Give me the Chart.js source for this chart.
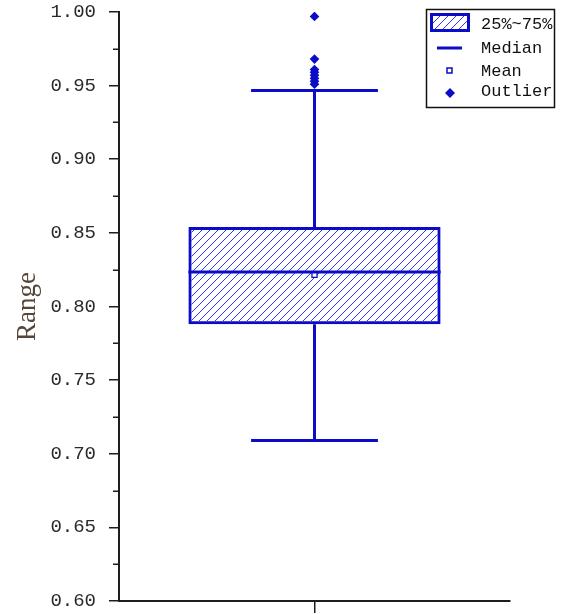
<!DOCTYPE html>
<html><head><meta charset="utf-8">
<script src="https://cdn.jsdelivr.net/npm/chart.js@4/dist/chart.umd.min.js"></script>
<style>html,body{margin:0;padding:0;background:#fff;overflow:hidden}#wrap{width:561px;height:614px}</style>
</head><body><div id="wrap"><canvas id="c" width="561" height="614"></canvas></div>
<script>
// ---- data ----
const categories = [''];
const lowerWhisker = [0.709];
const q1 = [0.788];
const median = [0.8235];
const mean = [0.8215];
const q3 = [0.854];
const upperWhisker = [0.9467];
const outliers = [0.997, 0.968, 0.961, 0.959, 0.957, 0.955, 0.953, 0.951];
const yTicks = [0.60, 0.65, 0.70, 0.75, 0.80, 0.85, 0.90, 0.95, 1.00];
const legendLabels = ['25%~75%', 'Median', 'Mean', 'Outlier'];
const yTitle = 'Range';

const BLUE = '#0c0cc6';
const AXIS = '#1e1e1e';
const MONO = '"Liberation Mono", "DejaVu Sans Mono", monospace';

const canvas = document.getElementById('c');
const ctx = canvas.getContext('2d');

function hatchPattern(color) {
  const c = document.createElement('canvas');
  c.width = 8; c.height = 8;
  const g = c.getContext('2d');
  g.strokeStyle = color; g.lineWidth = 1;
  g.beginPath();
  g.moveTo(0, 8); g.lineTo(8, 0);
  g.moveTo(-2, 2); g.lineTo(2, -2);
  g.moveTo(6, 10); g.lineTo(10, 6);
  g.stroke();
  return ctx.createPattern(c, 'repeat');
}
const HATCH = hatchPattern('#3434f4');

const boxDecor = {
  id: 'boxDecor',
  afterDatasetsDraw(chart) {
    const c = chart.ctx;
    const ys = chart.scales.y;
    const meta = chart.getDatasetMeta(0);
    meta.data.forEach((bar, i) => {
      const x = bar.x, w = bar.width, cap = w * 0.2515;
      c.save();
      c.strokeStyle = BLUE; c.lineWidth = 3; c.lineCap = 'butt';
      c.beginPath();
      const ym = ys.getPixelForValue(median[i]);
      c.moveTo(x - w / 2, ym); c.lineTo(x + w / 2, ym);
      c.moveTo(x, ys.getPixelForValue(q3[i])); c.lineTo(x, ys.getPixelForValue(upperWhisker[i]));
      c.moveTo(x, ys.getPixelForValue(q1[i])); c.lineTo(x, ys.getPixelForValue(lowerWhisker[i]));
      const yu = ys.getPixelForValue(upperWhisker[i]);
      const yl = ys.getPixelForValue(lowerWhisker[i]);
      c.moveTo(x - cap, yu); c.lineTo(x + cap, yu);
      c.moveTo(x - cap, yl); c.lineTo(x + cap, yl);
      c.stroke();
      c.restore();
    });
    // minor ticks on y axis
    const left = chart.chartArea.left;
    c.save();
    c.strokeStyle = AXIS; c.lineWidth = 1.5;
    c.beginPath();
    for (let k = 0; k < yTicks.length - 1; k++) {
      const v = (yTicks[k] + yTicks[k + 1]) / 2;
      const py = Math.round(ys.getPixelForValue(v)) + 0.25;
      c.moveTo(left - 6, py); c.lineTo(left, py);
    }
    c.stroke();
    c.restore();
  },
  afterDraw(chart) {
    const c = chart.ctx;
    c.save();
    // legend frame
    c.strokeStyle = '#111'; c.lineWidth = 1.5;
    c.strokeRect(426.5, 9.5, 128, 98);
    // swatch
    c.fillStyle = '#fff'; c.fillRect(430, 13, 40, 19);
    c.fillStyle = HATCH; c.fillRect(430, 13, 40, 19);
    c.strokeStyle = BLUE; c.lineWidth = 3;
    c.strokeRect(431.5, 14.5, 37, 16);
    // median line
    c.beginPath(); c.moveTo(437, 48); c.lineTo(462, 48); c.stroke();
    // mean square
    c.lineWidth = 1.5;
    c.strokeRect(447, 68, 5, 5);
    // outlier diamond
    c.fillStyle = BLUE;
    c.beginPath();
    c.moveTo(450, 88); c.lineTo(455, 93); c.lineTo(450, 98); c.lineTo(445, 93); c.closePath();
    c.fill();
    // texts
    c.fillStyle = '#111';
    c.font = '17px ' + MONO;
    c.textBaseline = 'middle'; c.textAlign = 'left';
    const rows = [24, 48.5, 71, 91.5];
    legendLabels.forEach((t, i) => c.fillText(t, 481, rows[i]));
    c.restore();
  }
};

new Chart(canvas, {
  type: 'bar',
  data: {
    labels: categories,
    datasets: [
      {
        label: legendLabels[0],
        data: categories.map((_, i) => [q1[i], q3[i]]),
        backgroundColor: HATCH,
        borderColor: BLUE,
        borderWidth: 3,
        borderSkipped: false,
        categoryPercentage: 1,
        barPercentage: 0.645,
        order: 3
      },
      {
        type: 'line',
        label: legendLabels[2],
        data: categories.map((c, i) => ({ x: c, y: mean[i] })),
        showLine: false,
        pointStyle: 'rect',
        pointRadius: 3.6,
        pointBorderWidth: 1.3,
        pointBorderColor: BLUE,
        pointBackgroundColor: '#fff',
        order: 1
      },
      {
        type: 'line',
        label: legendLabels[3],
        data: outliers.map(v => ({ x: categories[0], y: v })),
        showLine: false,
        pointStyle: 'rectRot',
        pointRadius: 4.8,
        pointBorderWidth: 0,
        pointBackgroundColor: BLUE,
        order: 2
      }
    ]
  },
  options: {
    responsive: false,
    devicePixelRatio: 1,
    animation: false,
    events: [],
    layout: { padding: { top: 12, right: 51, left: 0, bottom: 0 } },
    plugins: { legend: { display: false }, tooltip: { enabled: false } },
    scales: {
      x: {
        offset: true,
        grid: { display: true, offset: false, drawOnChartArea: false, drawTicks: true, tickLength: 12, color: AXIS, lineWidth: 1.5 },
        border: { display: true, color: AXIS, width: 2 },
        ticks: { display: false },
        afterFit(s) { s.height = 13; s.paddingLeft = 0; s.paddingRight = 0; }
      },
      y: {
        min: 0.6, max: 1.0,
        afterBuildTicks(s) { s.ticks = yTicks.map(v => ({ value: v })); },
        grid: { display: true, drawOnChartArea: false, drawTicks: true, tickLength: 10, color: AXIS, lineWidth: 1.5 },
        border: { display: true, color: AXIS, width: 2 },
        ticks: {
          padding: 13,
          color: '#2a2a2a',
          font: { family: MONO, size: 19 },
          callback: v => Number(v).toFixed(2)
        },
        title: {
          display: true, text: yTitle, color: '#54463a',
          font: { family: '"Liberation Serif", "DejaVu Serif", serif', size: 27 },
          padding: { top: 12, bottom: 0 }
        },
        afterFit(s) { s.width = 119; s.paddingTop = 0; s.paddingBottom = 0; }
      }
    }
  },
  plugins: [boxDecor]
});
</script>
</body></html>
